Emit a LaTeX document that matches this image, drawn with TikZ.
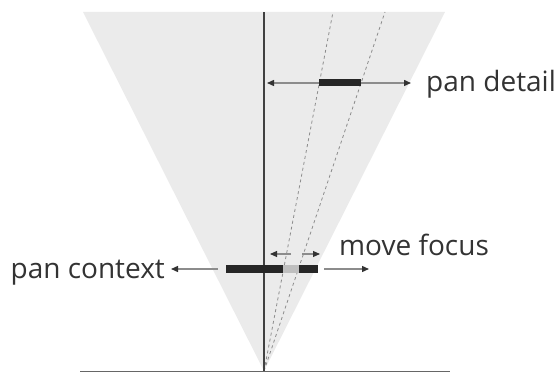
\documentclass[tikz,border=0pt]{standalone}
\usepackage{fontspec}
\setmainfont{Open Sans}
\usetikzlibrary{arrows.meta,positioning}

\begin{document}
\begin{tikzpicture}[x=1pt,y=-1pt,
    lbl/.style={font=\fontsize{28}{30}\selectfont, text=black!80, inner sep=0pt},
    bar/.style={fill=black!85, minimum height=7pt, inner sep=0pt},
    arr/.style={-{Triangle[length=7pt,width=6pt,color=black!80]}, draw=black!45, line width=1.4pt},
    ray/.style={draw=black!45, dashed, dash pattern=on 3pt off 3pt, line width=0.8pt}]
    \useasboundingbox (0,0) rectangle (557,374);

    % view frustum
    \coordinate (apex) at (264,371);
    \coordinate (top) at (264,12);
    \fill[black!8] (83,12) -- (445,12) -- (apex) -- cycle;
    \draw[ray] (apex) -- (333,12);
    \draw[ray] (apex) -- (385,12);
    \draw[black!75, line width=1.3pt] (apex) -- (top);
    \draw[black!60, line width=1pt] (80,371) -- (450,371);

    % detail
    \node (detailbar) [bar, minimum width=42pt] at (340,83) {};
    \node (detail) [lbl, anchor=base west] at (426,92) {pan detail};
    \coordinate (dtl) at (267,83);
    \draw[arr] (detailbar.west) -- (dtl);
    \draw[arr] (detailbar.east) -- ([xshift=-15pt]detail.west |- detailbar.east);

    % context
    \node (ctxbar) [bar, minimum width=92pt] at (272,269) {};
    \node (focus) [fill=black!25, minimum width=16pt, minimum height=7pt, inner sep=0pt] at (291,269) {};
    \node (ctx) [lbl, anchor=base east] at (165,278) {pan context};
    \node (move) [lbl, anchor=base west] at (339,255) {move focus};
    \draw[arr] ([xshift=-8pt]ctxbar.west) -- ([xshift=6pt]ctx.east |- ctxbar.west);
    \coordinate (mvtip) at (369,269);
    \draw[arr] ([xshift=6pt]ctxbar.east) -- (mvtip);

    % focus arrows
    \coordinate (fcl) at (291,254);
    \coordinate (fcr) at (302,254);
    \draw[arr, line width=1.1pt] (fcl) -- (270,254);
    \draw[arr, line width=1.1pt] (fcr) -- (320,254);
\end{tikzpicture}
\end{document}
